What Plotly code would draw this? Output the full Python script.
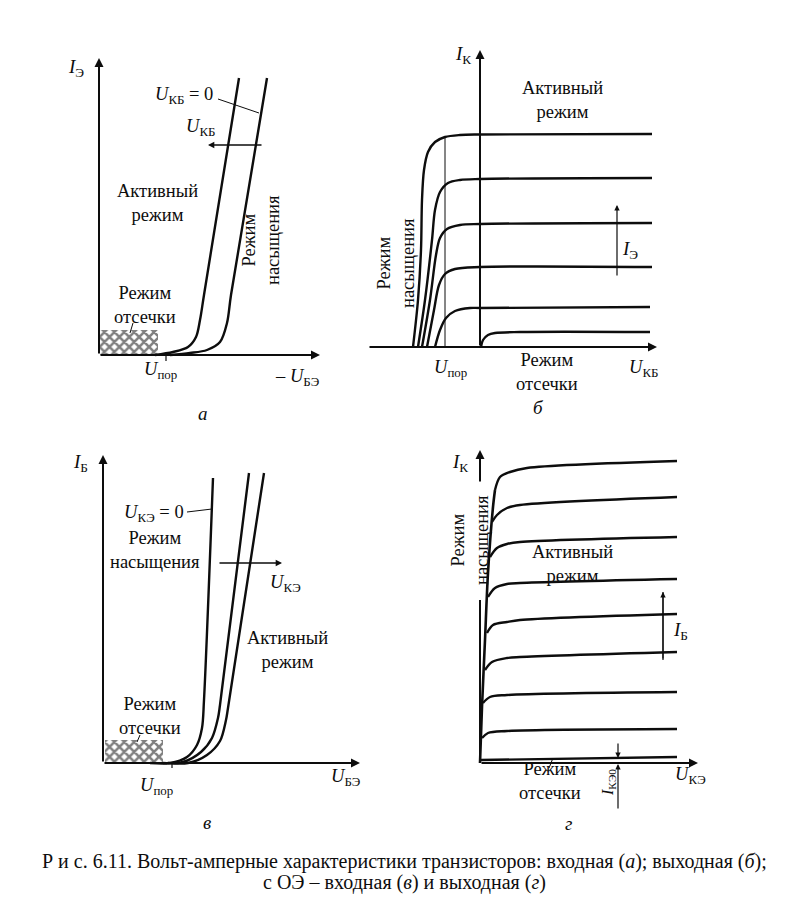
import plotly.graph_objects as go

W, H = 786, 911
UNIT = 10.0  # page pixels per data unit (same for every panel)

# ======================= DATA (arbitrary units) =======================
# --- panel а: input characteristic, common base ---
a_kb0_u = [5.6, 7.4, 8.9, 9.7, 10.1, 10.5, 14.0]
a_kb0_i = [0.0, 0.3, 0.8, 1.8, 3.5, 6.0, 27.7]
a_kb_u = [7.1, 9.1, 10.8, 12.1, 12.8, 13.2, 16.8]
a_kb_i = [0.0, 0.2, 0.5, 1.3, 3.2, 6.0, 27.7]
a_cut_u = [0.1, 5.9]
a_cut_i = [0.0, 2.5]
a_uthr = 6.7
a_axis_u = [0.0, 22.1]
a_axis_i = [0.0, 29.7]

# --- panel б: output characteristic, common base ---
b_curves_u = [
    [-6.7, -6.2, -5.9, -5.8, -5.6, -5.2, -4.5, -3.5, -2.0, 0.0, 17.2],
    [-6.2, -5.5, -4.8, -4.5, -4.0, -3.2, -2.0, 0.0, 17.2],
    [-5.8, -5.0, -4.4, -4.0, -3.3, -2.0, 0.0, 17.2],
    [-5.3, -4.6, -4.1, -3.5, -2.5, 0.0, 17.2],
    [-4.5, -4.0, -3.4, -2.5, -1.0, 0.0, 17.0],
    [0.1, 0.3, 0.8, 1.5, 4.0, 17.0],
]
b_curves_i = [
    [0.0, 4.7, 9.7, 14.7, 17.7, 19.5, 20.5, 21.0, 21.2, 21.25, 21.3],
    [0.0, 4.7, 10.7, 13.7, 15.5, 16.4, 16.7, 16.8, 16.9],
    [0.0, 4.7, 9.2, 10.9, 11.8, 12.2, 12.3, 12.4],
    [0.0, 3.7, 6.2, 7.3, 7.8, 8.0, 8.0],
    [0.0, 1.7, 2.9, 3.6, 3.9, 3.9, 4.0],
    [0.0, 0.7, 1.2, 1.4, 1.5, 1.5],
]
b_uthr = -3.5
b_uthr_top = 21.0
b_axis_u = [-11.2, 17.7]
b_axis_i = [0.0, 29.7]
b_ie_arrow = (13.7, 7.0, 14.2)

# --- panel в: input characteristic, common emitter ---
c_curves_u = [
    [4.7, 6.7, 8.4, 9.4, 9.9, 10.1, 11.0],
    [6.0, 8.0, 9.8, 10.9, 11.5, 11.7, 14.6],
    [6.5, 8.5, 10.4, 11.7, 12.3, 12.5, 16.1],
]
c_curves_i = [
    [0.0, 0.0, 0.6, 1.8, 3.5, 6.3, 28.5],
    [0.0, 0.1, 1.1, 2.5, 4.5, 5.8, 29.0],
    [0.0, 0.0, 0.8, 2.2, 4.3, 5.5, 29.0],
]
c_cut_u = [0.2, 6.0]
c_cut_i = [0.0, 2.3]
c_uthr = 6.9
c_axis_u = [0.0, 25.7]
c_axis_i = [0.0, 30.8]

# --- panel г: output characteristic, common emitter ---
d_sat_u = [0.0, 0.2, 0.5, 0.8, 1.3, 1.5]
d_sat_i = [0.0, 5.6, 12.3, 19.0, 25.6, 27.3]
d_curves_u = [
    [1.5, 2.0, 3.0, 4.7, 19.7],
    [1.2, 1.7, 2.7, 4.0, 19.7],
    [1.0, 1.7, 2.7, 4.0, 19.7],
    [0.8, 1.5, 2.7, 4.0, 19.7],
    [0.7, 1.3, 2.7, 4.0, 19.7],
    [0.5, 1.2, 2.7, 4.0, 19.7],
    [0.3, 1.0, 2.7, 19.7],
    [0.2, 0.8, 2.7, 19.7],
    [0.1, 19.7],
]
d_curves_i = [
    [27.3, 28.6, 29.1, 29.5, 30.2],
    [24.1, 24.8, 25.5, 25.8, 26.6],
    [20.6, 21.5, 21.9, 22.1, 22.6],
    [16.6, 17.5, 17.9, 18.0, 18.4],
    [13.0, 13.8, 14.1, 14.3, 14.9],
    [9.3, 10.1, 10.5, 10.6, 11.1],
    [6.0, 6.6, 6.8, 7.1],
    [2.5, 3.0, 3.2, 3.4],
    [0.3, 0.6],
]
d_axis_u = [0.0, 21.8]
d_axis_i = [0.0, 16.3, 28.0, 31.3]   # y axis is interrupted by the rotated label
d_ib_arrow = (18.3, 10.3, 17.1)
d_iceo_u = 13.8
d_iceo_i = [2.1, 0.5, -4.7, -0.1]

# ======================= LAYOUT FRAMES =======================
# page-pixel box (left, right, top, bottom) and origin pixel of each panel
frames = {
    "a": dict(box=(60, 345, 40, 425), origin=(99, 355)),
    "b": dict(box=(355, 712, 30, 420), origin=(480, 347)),
    "c": dict(box=(60, 385, 440, 835), origin=(103, 763)),
    "d": dict(box=(440, 722, 440, 835), origin=(480, 763)),
}
refs = {}
layout_axes = {}
for n, (key, f) in enumerate(frames.items(), start=1):
    l, r, t, b = f["box"]
    ox, oy = f["origin"]
    sx = "" if n == 1 else str(n)
    refs[key] = ("x" + sx, "y" + sx)
    layout_axes["xaxis" + sx] = dict(
        domain=[l / W, r / W], range=[(l - ox) / UNIT, (r - ox) / UNIT],
        visible=False, fixedrange=True, anchor="y" + sx)
    layout_axes["yaxis" + sx] = dict(
        domain=[1 - b / H, 1 - t / H], range=[(oy - b) / UNIT, (oy - t) / UNIT],
        visible=False, fixedrange=True, anchor="x" + sx)

fig = go.Figure()
ann = []
FONT = "Liberation Serif"
INK = "#0d0d0d"
TS = 18.5


def curve(p, xs, ys, width=2.4, shape="spline", dash=None):
    xr, yr = refs[p]
    fig.add_trace(go.Scatter(
        x=xs, y=ys, mode="lines", xaxis=xr, yaxis=yr, showlegend=False,
        hoverinfo="skip",
        line=dict(color=INK, width=width, shape=shape, smoothing=0.9, dash=dash)))


def hatch(p, us, iis):
    xr, yr = refs[p]
    fig.add_trace(go.Scatter(
        x=[us[0], us[1], us[1], us[0], us[0]],
        y=[iis[0], iis[0], iis[1], iis[1], iis[0]],
        mode="lines", fill="toself", xaxis=xr, yaxis=yr, showlegend=False,
        hoverinfo="skip", line=dict(width=0, color="rgba(0,0,0,0)"),
        fillcolor="white",
        fillpattern=dict(shape="x", size=7, solidity=0.6,
                         fgcolor="#000000", bgcolor="white")))


def arrow(p, x0, y0, x1, y1, width=1.8, size=0.9):
    xr, yr = refs[p]
    ann.append(dict(
        x=x1, y=y1, ax=x0, ay=y0, xref=xr, yref=yr, axref=xr, ayref=yr,
        text="", showarrow=True, arrowhead=2, arrowsize=size,
        arrowwidth=width, arrowcolor=INK, standoff=0, startstandoff=0))


def text(p, x, y, s, size=TS, angle=0, xanchor="center"):
    xr, yr = refs[p]
    ann.append(dict(x=x, y=y, xref=xr, yref=yr, text=s, showarrow=False,
                    textangle=angle, xanchor=xanchor, yanchor="middle",
                    font=dict(family=FONT, size=size, color=INK), align="center"))


# ----------------------------- panel а -----------------------------
hatch("a", a_cut_u, a_cut_i)
curve("a", a_kb0_u, a_kb0_i)
curve("a", a_kb_u, a_kb_i)
curve("a", [a_uthr, a_uthr], [0, -0.6], width=1.2, shape="linear")
curve("a", [11.9, 16.0], [25.6, 24.2], width=1.0, shape="linear")   # leader
curve("a", [3.4, 3.1], [3.2, 2.2], width=1.0, shape="linear")       # leader
arrow("a", a_axis_u[0], 0, a_axis_u[1], 0, width=2.0)
arrow("a", 0, a_axis_i[0], 0, a_axis_i[1], width=2.0)
arrow("a", 16.4, 21.0, 10.9, 21.0, width=1.4)
text("a", -2.3, 28.7, "<i>I</i><sub>Э</sub>", size=19)
text("a", 11.6, 26.0, "<i>U</i><sub>КБ</sub> = 0", xanchor="right")
text("a", 10.1, 22.8, "<i>U</i><sub>КБ</sub>")
text("a", 5.8, 15.2, "Активный<br>режим")
text("a", 16.2, 11.5, "Режим<br>насыщения", angle=-90)
text("a", 4.6, 5.0, "Режим<br>отсечки")
text("a", 6.1, -1.5, "<i>U</i><sub>пор</sub>")
text("a", 19.8, -2.2, "– <i>U</i><sub>БЭ</sub>")
text("a", 10.4, -5.8, "<i>а</i>", size=19)

# ----------------------------- panel б -----------------------------
for us, iis in zip(b_curves_u, b_curves_i):
    curve("b", us, iis)
curve("b", [b_uthr, b_uthr], [0, b_uthr_top], width=1.0, shape="linear")
arrow("b", b_axis_u[0], 0, b_axis_u[1], 0, width=2.0)
arrow("b", 0, b_axis_i[0], 0, b_axis_i[1], width=2.0)
arrow("b", b_ie_arrow[0], b_ie_arrow[1], b_ie_arrow[0], b_ie_arrow[2], width=1.2)
text("b", -1.7, 29.2, "<i>I</i><sub>К</sub>", size=19)
text("b", 8.2, 24.7, "Активный<br>режим")
text("b", 15.0, 9.7, "<i>I</i><sub>Э</sub>", size=19)
text("b", -8.4, 8.4, "Режим<br>насыщения", angle=-90)
text("b", -3.0, -2.1, "<i>U</i><sub>пор</sub>")
text("b", 6.7, -2.5, "Режим<br>отсечки")
text("b", 16.3, -2.1, "<i>U</i><sub>КБ</sub>")
text("b", 5.8, -6.0, "<i>б</i>", size=19)

# ----------------------------- panel в -----------------------------
hatch("c", c_cut_u, c_cut_i)
for us, iis in zip(c_curves_u, c_curves_i):
    curve("c", us, iis)
curve("c", [c_uthr, c_uthr], [0, -0.5], width=1.2, shape="linear")
curve("c", [8.4, 10.9], [25.1, 25.4], width=1.0, shape="linear")   # leader
curve("c", [3.7, 3.4], [2.8, 2.1], width=1.0, shape="linear")      # leader
arrow("c", c_axis_u[0], 0, c_axis_u[1], 0, width=2.0)
arrow("c", 0, c_axis_i[0], 0, c_axis_i[1], width=2.0)
arrow("c", 11.5, 20.0, 17.9, 20.0, width=1.4)
text("c", -2.3, 30.0, "<i>I</i><sub>Б</sub>", size=19)
text("c", 8.3, 25.0, "<i>U</i><sub>КЭ</sub> = 0", xanchor="right")
text("c", 5.2, 21.3, "Режим<br>насыщения")
text("c", 18.2, 18.0, "<i>U</i><sub>КЭ</sub>")
text("c", 18.4, 11.3, "Активный<br>режим")
text("c", 4.7, 4.7, "Режим<br>отсечки")
text("c", 5.3, -2.3, "<i>U</i><sub>пор</sub>")
text("c", 24.2, -1.4, "<i>U</i><sub>БЭ</sub>")
text("c", 10.4, -5.9, "<i>в</i>", size=19)

# ----------------------------- panel г -----------------------------
arrow("d", d_axis_u[0], 0, d_axis_u[1], 0, width=2.0)
curve("d", [0, 0], [d_axis_i[0], d_axis_i[1]], width=2.0, shape="linear")
arrow("d", 0, d_axis_i[2], 0, d_axis_i[3], width=2.0)
text("d", -1.0, 22.3, "Режим<br>насыщения", angle=-90)
curve("d", d_sat_u, d_sat_i, width=2.6)
for us, iis in zip(d_curves_u, d_curves_i):
    curve("d", us, iis)
curve("d", [d_ib_arrow[0], d_ib_arrow[0]], [d_ib_arrow[1], d_ib_arrow[2]],
      width=1.2, shape="linear")
arrow("d", d_ib_arrow[0], d_ib_arrow[1], d_ib_arrow[0], d_ib_arrow[2], width=1.2)
arrow("d", d_iceo_u, d_iceo_i[0], d_iceo_u, d_iceo_i[1], width=1.2)
arrow("d", d_iceo_u, d_iceo_i[2], d_iceo_u, d_iceo_i[3], width=1.2)
curve("d", [7.3, 6.9], [0.5, -0.5], width=1.0, shape="linear")      # leader
text("d", -2.0, 30.0, "<i>I</i><sub>К</sub>", size=19)
text("d", 9.2, 19.9, "Активный<br>режим")
text("d", 20.0, 13.2, "<i>I</i><sub>Б</sub>", size=19)
text("d", 7.0, -1.8, "Режим<br>отсечки")
text("d", 12.8, -2.0, "<i>I</i><sub>КЭ0</sub>", angle=-90, size=16)
text("d", 21.0, -1.2, "<i>U</i><sub>КЭ</sub>")
text("d", 8.8, -6.0, "<i>г</i>", size=19)

# ----------------------------- caption -----------------------------
caption_lines = [
    "Р и с. 6.11. Вольт-амперные характеристики транзисторов: входная (<i>а</i>); "
    "выходная (<i>б</i>);",
    "с ОЭ – входная (<i>в</i>) и выходная (<i>г</i>)",
]
for line, ypx in zip(caption_lines, [861, 882]):
    ann.append(dict(
        x=404 / W, y=1 - ypx / H, xref="paper", yref="paper", showarrow=False,
        xanchor="center", yanchor="middle", align="center", text=line,
        font=dict(family=FONT, size=20, color=INK)))

fig.update_layout(
    width=W, height=H, margin=dict(l=0, r=0, t=0, b=0),
    paper_bgcolor="white", plot_bgcolor="rgba(0,0,0,0)",
    annotations=ann, **layout_axes)

fig.write_html("out.html", post_script="document.body.style.margin='0';",
               config={"displayModeBar": False})
